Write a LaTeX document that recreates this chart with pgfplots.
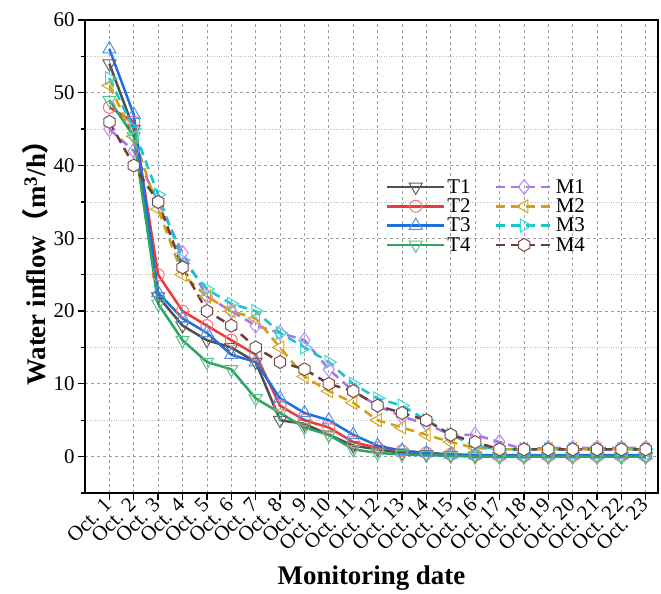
\documentclass[border=0pt]{standalone}
\usepackage{fontspec}
\setmainfont{Liberation Serif}
\newfontfamily\cjk{Noto Sans CJK SC}
\usepackage{pgfplots}
\pgfplotsset{compat=1.18}
\usetikzlibrary{plotmarks}

\pgfdeclareplotmark{hexagon}{%
 \pgfpathmoveto{\pgfqpointpolar{90}{\pgfplotmarksize}}%
 \pgfpathlineto{\pgfqpointpolar{150}{\pgfplotmarksize}}%
 \pgfpathlineto{\pgfqpointpolar{210}{\pgfplotmarksize}}%
 \pgfpathlineto{\pgfqpointpolar{270}{\pgfplotmarksize}}%
 \pgfpathlineto{\pgfqpointpolar{330}{\pgfplotmarksize}}%
 \pgfpathlineto{\pgfqpointpolar{30}{\pgfplotmarksize}}%
 \pgfpathclose
 \pgfusepathqfillstroke}

\definecolor{cT1}{HTML}{505050}
\definecolor{cT2}{HTML}{F03A3A}
\definecolor{cT3}{HTML}{1E6FE0}
\definecolor{cT4}{HTML}{2FA562}
\definecolor{cM1}{HTML}{A874E8}
\definecolor{cM2}{HTML}{D4A012}
\definecolor{cM3}{HTML}{12C8CC}
\definecolor{cM4}{HTML}{6E3E3E}
\definecolor{mT1}{HTML}{606060}
\definecolor{mT2}{HTML}{FF7070}
\definecolor{mT3}{HTML}{4E8FEA}
\definecolor{mT4}{HTML}{55C487}
\definecolor{mM1}{HTML}{B98AF0}
\definecolor{mM2}{HTML}{D9A520}
\definecolor{mM3}{HTML}{3CD6D6}
\definecolor{mM4}{HTML}{7A4B4B}

\pgfplotstableread{
x T1 T2 T3 T4 M1 M2 M3 M4
1 54 48 56 49 45 51 52 46
2 45 46 47 44 42 44 45 40
3 22 25 22.5 21 35 34 36 35
4 18 20 19 16 28 25 27 26
5 16 18 17 13 22 22 23 20
6 15 16 14 12 20 20 21 18
7 13 14 13 8 18 19 20 15
8 5 7 8 6 17 15 17 13
9 4.5 5 6 4 16 11 15 12
10 3 4 5 3 12 9 13 10
11 1.5 2 3 1 9 7.4 10 9
12 1 1.2 1.5 0.5 7 5 8 7
13 0.5 0.8 0.8 0.3 5.5 4 7 6
14 0.3 0.5 0.5 0.2 4.5 3 5 5
15 0.2 0.3 0.3 0.1 3 2 3 3
16 0.1 0.2 0.2 0 3 1.2 1.5 2
17 0 0.1 0.2 0 2 1 1 1
18 0 0.1 0.2 0 1 1 1 1
19 0 0.1 0.2 0 1.2 1 1 1
20 0 0.1 0.2 0 1.2 1 1 1
21 0 0.1 0.2 0 1.2 1 1 1
22 0 0.1 0.2 0 1.2 1 1 1
23 0 0.1 0.2 0 1.2 1 1 1
}\datatable

\begin{document}
\begin{tikzpicture}
\begin{axis}[
 scale only axis, width=573bp, height=473bp,
 xmin=0, xmax=23.5, ymin=-5, ymax=60,
 xtick={1,...,23},
 xticklabels={Oct. 1,Oct. 2,Oct. 3,Oct. 4,Oct. 5,Oct. 6,Oct. 7,Oct. 8,Oct. 9,Oct. 10,Oct. 11,Oct. 12,Oct. 13,Oct. 14,Oct. 15,Oct. 16,Oct. 17,Oct. 18,Oct. 19,Oct. 20,Oct. 21,Oct. 22,Oct. 23},
 ytick={0,10,...,60}, minor ytick={-5,5,...,55},
 grid=both,
 major grid style={dashed, gray!75, line width=0.7bp},
 minor grid style={dotted, gray!50, line width=0.7bp},
 tick align=outside, xtick pos=lower, ytick pos=left,
 major tick length=7bp, minor tick length=4bp,
 axis line style={line width=1.6bp},
 every tick/.style={black, line width=1.3bp},
 /pgf/number format/assume math mode=true,
 yticklabel style={font=\fontsize{21}{21}\selectfont},
 xticklabel style={rotate=45, anchor=east, font=\fontsize{21}{21}\selectfont, inner sep=2bp},
 xlabel={\textbf{Monitoring date}},
 ylabel={\textbf{Water inflow{\cjk （}m\textsuperscript{3}/h{\cjk ）}}},
 label style={font=\fontsize{27}{27}\selectfont},
 xlabel style={yshift=-8bp},
 ylabel style={yshift=-2bp},
 legend style={draw=none, fill=none, at={(axis description cs:0.52,0.672)}, anchor=north west,
   font=\fontsize{21}{21}\selectfont, row sep=0bp,
   /tikz/every even column/.append style={column sep=22bp}},
 legend columns=2, legend cell align=left,
 legend image code/.code={\draw[mark repeat=2,mark phase=2] plot coordinates {(0cm,0cm) (1cm,0cm) (2cm,0cm)};},
]
\addplot[color=cT1, line width=2.5bp, mark=triangle, mark size=7.5bp, mark options={solid, rotate=180, fill=white, draw=mT1, line width=1bp}] table[x=x,y=T1]{\datatable};
\addlegendentry{T1}
\addplot[color=cM1, line width=2.5bp, dash pattern=on 9bp off 6bp, mark=diamond, mark size=7.5bp, mark options={solid, fill=white, draw=mM1, line width=1bp}] table[x=x,y=M1]{\datatable};
\addlegendentry{M1}
\addplot[color=cT2, line width=2.5bp, mark=o, mark size=6bp, mark options={solid, fill=white, draw=mT2, line width=1bp}] table[x=x,y=T2]{\datatable};
\addlegendentry{T2}
\addplot[color=cM2, line width=2.5bp, dash pattern=on 9bp off 6bp, mark=triangle, mark size=7.5bp, mark options={solid, rotate=90, fill=white, draw=mM2, line width=1bp}] table[x=x,y=M2]{\datatable};
\addlegendentry{M2}
\addplot[color=cT3, line width=2.5bp, mark=triangle, mark size=7.5bp, mark options={solid, fill=white, draw=mT3, line width=1bp}] table[x=x,y=T3]{\datatable};
\addlegendentry{T3}
\addplot[color=cM3, line width=2.5bp, dash pattern=on 9bp off 6bp, mark=triangle, mark size=7.5bp, mark options={solid, rotate=-90, fill=white, draw=mM3, line width=1bp}] table[x=x,y=M3]{\datatable};
\addlegendentry{M3}
\addplot[color=cT4, line width=2.5bp, mark=triangle, mark size=7.5bp, mark options={solid, rotate=180, fill=white, draw=mT4, line width=1bp}] table[x=x,y=T4]{\datatable};
\addlegendentry{T4}
\addplot[color=cM4, line width=2.5bp, dash pattern=on 9bp off 6bp, mark=hexagon, mark size=6.5bp, mark options={solid, fill=white, draw=mM4, line width=1bp}] table[x=x,y=M4]{\datatable};
\addlegendentry{M4}
\end{axis}
\path ([shift={(-85bp,-101bp)}]current axis.south west) rectangle ([shift={(3bp,20bp)}]current axis.north east);
\end{tikzpicture}
\end{document}
